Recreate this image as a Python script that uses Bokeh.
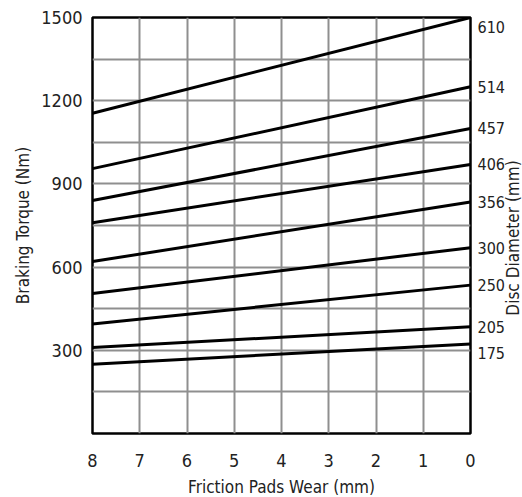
import math
from bokeh.plotting import figure
from bokeh.models import FixedTicker, Range1d, LinearAxis
from bokeh.embed import file_html
from bokeh.resources import INLINE

# ---- data ----
diameters = ["610", "514", "457", "406", "356", "300", "250", "205", "175"]
torque_at_wear8 = [1155, 955, 840, 760, 620, 505, 395, 310, 250]
torque_at_wear0 = [1500, 1250, 1100, 970, 835, 670, 535, 385, 323]
x_ticks = [8, 7, 6, 5, 4, 3, 2, 1, 0]
y_ticks = [300, 600, 900, 1200, 1500]
y_grid = [150, 300, 450, 600, 750, 900, 1050, 1200, 1350]
right_title = "Disc Diameter (mm)"

FONT = "DejaVu Sans Condensed"
TXT = "#222222"

p = figure(frame_width=378, frame_height=416,
           x_range=Range1d(8, 0), y_range=Range1d(0, 1500),
           output_backend="svg", toolbar_location=None,
           min_border_left=92, min_border_top=17,
           min_border_right=52, min_border_bottom=62)
p.background_fill_color = "white"
p.outline_line_color = "black"
p.outline_line_width = 2.5

# grid
p.xgrid.ticker = FixedTicker(ticks=x_ticks)
p.ygrid.ticker = FixedTicker(ticks=y_grid)
for g in (p.xgrid, p.ygrid):
    g.grid_line_color = "#8f8f8f"
    g.grid_line_width = 2

left = p.yaxis[0]
bottom = p.xaxis[0]
left.ticker = FixedTicker(ticks=y_ticks)
bottom.ticker = FixedTicker(ticks=x_ticks)
left.axis_label = "Braking Torque (Nm)"
bottom.axis_label = "Friction Pads Wear (mm)"

# right axis with disc diameter labels at line ends
label_nudge = [-35, 0, 0, 0, 0, 0, 0, 0, -32]
label_pos = [v + d for v, d in zip(torque_at_wear0, label_nudge)]
right = LinearAxis(ticker=FixedTicker(ticks=label_pos),
                   major_label_overrides={v: n for v, n in zip(label_pos, diameters)})
p.add_layout(right, "right")

# outer right axis carrying the rotated title (text starts at the tick, reads upward)
title_start = 425
right2 = LinearAxis(ticker=FixedTicker(ticks=[title_start]),
                    major_label_overrides={title_start: right_title},
                    major_label_orientation=math.pi / 2)
p.add_layout(right2, "right")

for ax in (left, bottom, right, right2):
    ax.axis_line_color = None
    ax.major_tick_line_color = None
    ax.minor_tick_line_color = None
    ax.major_label_text_font = FONT
    ax.major_label_text_font_size = "18px"
    ax.major_label_text_color = TXT
    ax.axis_label_text_font = FONT
    ax.axis_label_text_font_size = "17px"
    ax.axis_label_text_font_style = "normal"
    ax.axis_label_text_color = TXT

left.major_label_standoff = 4
left.axis_label_standoff = 5
right.major_label_standoff = 1
right.major_label_text_font_size = "16px"
right2.major_label_standoff = 0
right2.major_label_text_font_size = "17px"
bottom.major_label_standoff = 14
bottom.axis_label_standoff = 7

# lines
p.segment(x0=[8] * len(diameters), y0=torque_at_wear8,
          x1=[0] * len(diameters), y1=torque_at_wear0,
          line_color="black", line_width=3)

open("out.html", "w").write(file_html(p, INLINE))
